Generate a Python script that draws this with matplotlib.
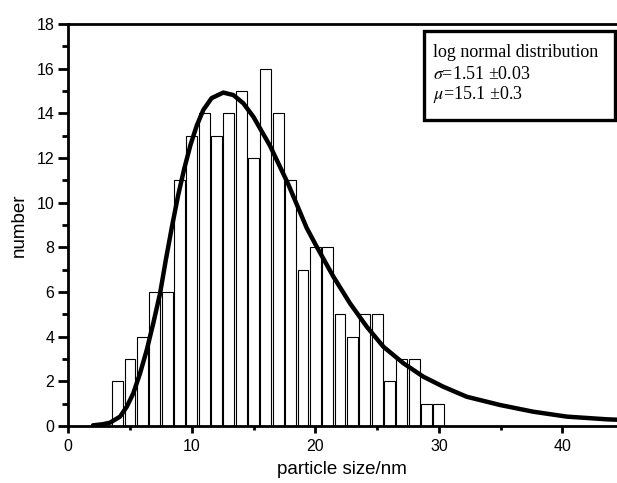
import numpy as np
import matplotlib.pyplot as plt
from matplotlib.patches import Rectangle
from matplotlib.ticker import MultipleLocator

plt.rcParams["font.family"] = "Liberation Sans"
plt.rcParams["mathtext.fontset"] = "stix"

# histogram counts, one bar per nm
sizes = [4, 5, 6, 7, 8, 9, 10, 11, 12, 13, 14, 15, 16, 17, 18, 19, 20,
         21, 22, 23, 24, 25, 26, 27, 28, 29, 30]
counts = [2, 3, 4, 6, 6, 11, 13, 14, 13, 14, 15, 12, 16, 14, 11, 7, 8,
          8, 5, 4, 5, 5, 2, 3, 3, 1, 1]

# log normal fit curve
fit_x = [2.0, 2.8, 3.38, 4.19, 4.73, 5.26, 5.81, 6.35, 6.88, 7.43, 7.9,
         8.4, 8.9, 9.4, 9.9, 10.4, 10.93, 11.6, 12.55, 13.36, 14.17,
         14.98, 15.52, 16.33, 17.79, 19.3, 20.11, 21.46, 22.81, 24.16,
         25.51, 27.13, 28.74, 30.36, 32.26, 34.96, 37.65, 40.36, 43.6, 45.0]
fit_y = [0.03, 0.08, 0.15, 0.42, 0.86, 1.46, 2.36, 3.4, 4.6, 5.94, 7.45,
         8.95, 10.35, 11.55, 12.6, 13.45, 14.15, 14.68, 14.93, 14.82, 14.45,
         13.85, 13.33, 12.55, 10.85, 8.87, 8.03, 6.69, 5.49, 4.45,
         3.55, 2.81, 2.21, 1.76, 1.31, 0.94, 0.64, 0.42, 0.3, 0.27]

fig = plt.figure(figsize=(6.17, 4.83), dpi=100)
ax = fig.add_axes([0.1107, 0.118, 0.9008, 0.8323])

ax.bar(sizes, counts, width=0.88, facecolor="white", edgecolor="black",
       linewidth=0.8, zorder=2)
ax.plot(fit_x, fit_y, color="black", linewidth=3.2, zorder=3,
        solid_capstyle="round", solid_joinstyle="round")

ax.set_xlim(0, 45)
ax.set_ylim(0, 18)
ax.xaxis.set_major_locator(MultipleLocator(10))
ax.xaxis.set_minor_locator(MultipleLocator(5))
ax.yaxis.set_major_locator(MultipleLocator(2))
ax.yaxis.set_minor_locator(MultipleLocator(1))

for s in ax.spines.values():
    s.set_linewidth(2.0)
ax.tick_params(axis="both", which="both", direction="out", width=2.0,
               labelsize=11.5)
ax.tick_params(axis="y", which="major", length=7, pad=3)
ax.tick_params(axis="y", which="minor", length=4)
ax.tick_params(axis="x", which="major", length=5, pad=4)
ax.tick_params(axis="x", which="minor", length=3)

ax.set_xlabel("particle size/nm", fontsize=13.5)
ax.set_ylabel("number", fontsize=13.5, labelpad=6)
ax.xaxis.set_label_coords(0.492, -0.086)

# legend box with the fit parameters
ax.add_patch(Rectangle((0.6405, 0.7612), 0.3431, 0.2221,
                       transform=ax.transAxes, facecolor="white",
                       edgecolor="black", linewidth=2.4, zorder=5,
                       clip_on=False))
lines = ["log normal distribution",
         "$\\sigma$=1.51 \u00b10.03",
         "$\\mu$=15.1 \u00b10.3"]
for txt, yb in zip(lines, [0.9187, 0.8632, 0.8134]):
    ax.text(0.6567, yb, txt, transform=ax.transAxes, ha="left",
            va="baseline", fontsize=13, family="Liberation Serif", zorder=6)

fig.savefig("out.png", dpi=100)
